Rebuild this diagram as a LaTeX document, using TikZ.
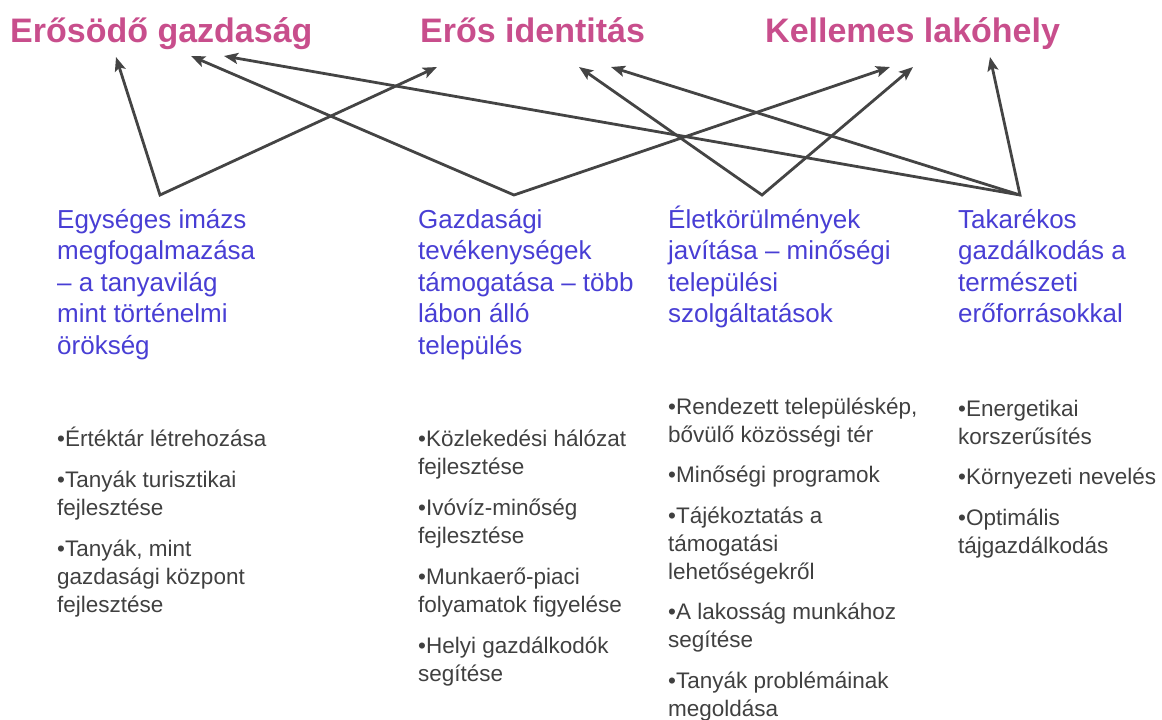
\documentclass[tikz,border=0pt]{standalone}
\usepackage{fontspec}
\setmainfont{Liberation Sans}
\usetikzlibrary{arrows.meta}
\definecolor{titlepink}{RGB}{200,78,140}
\definecolor{headblue}{RGB}{72,62,212}
\definecolor{bodygray}{RGB}{64,64,64}
\definecolor{arrowgray}{RGB}{68,68,68}
\tikzset{
  goal/.style={anchor=base west,inner sep=0pt,text=titlepink,font=\fontsize{34}{40}\selectfont\bfseries},
  heading/.style={anchor=base west,inner sep=0pt,text=headblue,align=left,font=\fontsize{26}{31.6}\selectfont},
  items/.style={anchor=base west,inner sep=0pt,text=bodygray,align=left,font=\fontsize{22.5}{28}\selectfont},
  tip/.tip={Stealth[length=14pt,width=11pt,inset=3pt]},
  link/.style={draw=arrowgray,line width=2.8pt,line join=miter,-tip},
  twolink/.style={draw=arrowgray,line width=2.8pt,line join=miter,tip-tip},
}
\begin{document}
\begin{tikzpicture}[x=1pt,y=-1pt]
\useasboundingbox (0,0) rectangle (1162,720);
% goals
\node[goal] (g1) at (10,42) {Erősödő gazdaság};
\node[goal] (g2) at (420,42) {Erős identitás};
\node[goal] (g3) at (765,42) {Kellemes lakóhely};
% arrow end points
\coordinate (A) at (160,195);
\coordinate (B) at (514,195);
\coordinate (C) at (762,195);
\coordinate (D) at (1020,195);
\coordinate (a1) at (116,57);
\coordinate (a2) at (437,67);
\coordinate (b1) at (191,56);
\coordinate (b2) at (890,67);
\coordinate (c1) at (579,67);
\coordinate (c2) at (913,67);
\coordinate (d1) at (224,56);
\coordinate (d2) at (611,67);
\coordinate (d3) at (990,57);
% connectors
\draw[twolink] (a1) -- (A) -- (a2);
\draw[twolink] (b1) -- (B) -- (b2);
\draw[twolink] (c1) -- (C) -- (c2);
\draw[twolink] (d1) -- (D) -- (d3);
\draw[link] (D) -- (d2);
% headings (anchored at the baseline of the last line)
\node[heading] (h1) at (57,354.4) {Egységes imázs\\megfogalmazása\\– a tanyavilág\\mint történelmi\\örökség};
\node[heading] (h2) at (418,354.4) {Gazdasági\\tevékenységek\\támogatása – több\\lábon álló\\település};
\node[heading] (h3) at (668,322.8) {Életkörülmények\\javítása – minőségi\\települési\\szolgáltatások};
\node[heading] (h4) at (958,322.8) {Takarékos\\gazdálkodás a\\természeti\\erőforrásokkal};
% bullet lists (anchored at the baseline of the last line)
\node[items] (l1) at (57,612) {•Értéktár létrehozása\\[13pt]•Tanyák turisztikai\\fejlesztése\\[13pt]•Tanyák, mint\\gazdasági központ\\fejlesztése};
\node[items] (l2) at (418,681) {•Közlekedési hálózat\\fejlesztése\\[13pt]•Ivóvíz-minőség\\fejlesztése\\[13pt]•Munkaerő-piaci\\folyamatok figyelése\\[13pt]•Helyi gazdálkodók\\segítése};
\node[items] (l3) at (668,716) {•Rendezett településkép,\\bővülő közösségi tér\\[12pt]•Minőségi programok\\[13pt]•Tájékoztatás a\\támogatási\\lehetőségekről\\[12pt]•A lakosság munkához\\segítése\\[13pt]•Tanyák problémáinak\\megoldása};
\node[items] (l4) at (958,553) {•Energetikai\\korszerűsítés\\[12pt]•Környezeti nevelés\\[13pt]•Optimális\\tájgazdálkodás};
\end{tikzpicture}
\end{document}
